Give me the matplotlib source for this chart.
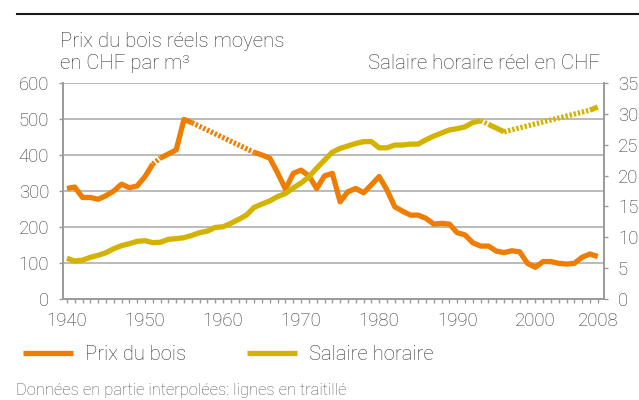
import matplotlib.pyplot as plt
import numpy as np

plt.rcParams['font.family'] = ['Roboto', 'DejaVu Sans']

# ---- data -------------------------------------------------------------
years = list(range(1940, 2009))

# Prix du bois réels moyens, CHF par m3 (None = year missing, bridged dashed)
prix_bois = [307, 311, 282, 282, 277, 287, 300, 319, 309, 314,
             340, 375, 392, 403, 414, 499, 490, None, None, None,
             None, None, None, None, 407, 400, 391, 350, 305, 349,
             358, 342, 307, 342, 349, 270, 298, 307, 295, 317,
             340, 303, 256, 244, 233, 233, 224, 208, 210, 208,
             184, 178, 156, 147, 147, 133, 129, 134, 131, 99,
             88, 104, 104, 99, 97, 99, 116, 125, 118]

# Salaire horaire réel, CHF
salaire = [6.6, 6.16, 6.3, 6.75, 7.08, 7.5, 8.15, 8.64, 8.96, 9.35,
           9.45, 9.13, 9.2, 9.67, 9.78, 9.94, 10.3, 10.75, 11.0, 11.6,
           11.7, 12.26, 12.9, 13.6, 14.86, 15.4, 15.9, 16.6, 17.1, 18.0,
           18.8, 19.8, 21.2, 22.5, 23.8, 24.4, 24.8, 25.2, 25.5, 25.5,
           24.5, 24.5, 24.95, 24.95, 25.1, 25.1, 25.8, 26.4, 26.9, 27.4,
           27.6, 27.9, 28.6, 28.9, 28.3, 27.7, 27.1, None, None, None,
           None, None, None, None, None, None, None, 30.6, 31.1]

# intervals drawn as interpolated (dashed)
prix_dashed = [(1951, 1952), (1956, 1964)]
salaire_dashed = [(1993, 1994), (1996, 2007)]

x_ticks = [1940, 1950, 1960, 1970, 1980, 1990, 2000, 2008]
left_ticks = [0, 100, 200, 300, 400, 500, 600]
right_ticks = [0, 5, 10, 15, 20, 25, 30, 35]

ORANGE = '#ef7d00'
YELLOW = '#d4b300'
GRID = '#a8a8a8'
TXT = '#333333'


def draw_series(ax, xs, ys, dashed, color):
    pts = [(x, y) for x, y in zip(xs, ys) if y is not None]
    runs = []
    for (x0, y0), (x1, y1) in zip(pts[:-1], pts[1:]):
        is_dash = (x0, x1) in dashed
        if runs and runs[-1][0] == is_dash:
            runs[-1][1].append((x1, y1))
        else:
            runs.append([is_dash, [(x0, y0), (x1, y1)]])
    handle = None
    for is_dash, seg in runs:
        sx, sy = zip(*seg)
        ls = (0, (0.45, 0.35)) if is_dash else '-'
        ln, = ax.plot(sx, sy, color=color, lw=3.8, linestyle=ls,
                      solid_joinstyle='round', solid_capstyle='butt',
                      dash_capstyle='butt')
        if handle is None and not is_dash:
            handle = ln
    return handle


fig = plt.figure(figsize=(6.39, 4.0), dpi=100)
ax = fig.add_axes([63 / 639, 1 - 299 / 400, 541 / 639, 216 / 400])
ax2 = ax.twinx()

h1 = draw_series(ax, years, prix_bois, prix_dashed, ORANGE)
h2 = draw_series(ax2, years, salaire, salaire_dashed, YELLOW)

ax.set_xlim(1939.5, 2008.8)
ax.set_ylim(0, 600)
ax2.set_ylim(0, 35)

ax.set_yticks(left_ticks)
ax2.set_yticks(right_ticks)
ax.set_xticks(x_ticks)
ax.set_xticks(years, minor=True)
ax.grid(axis='y', color=GRID, lw=1.1)
ax.set_axisbelow(True)

for a in (ax, ax2):
    a.spines['top'].set_visible(False)
    for s in ('left', 'right', 'bottom'):
        a.spines[s].set_color('#9a9a9a')
        a.spines[s].set_linewidth(1.2)

ax.tick_params(axis='both', which='both', color='#9a9a9a', width=1.0,
               length=3, labelcolor=TXT, labelsize=13.4)
ax.tick_params(axis='y', pad=7)
ax.tick_params(axis='x', pad=6)
ax2.tick_params(axis='y', color='#9a9a9a', width=1.0, length=3,
                labelcolor=TXT, labelsize=13.4, pad=7)
for lab in ax.get_xticklabels() + ax.get_yticklabels() + ax2.get_yticklabels():
    lab.set_fontweight('light')

# axis titles
fig.text(60 / 639, 1 - 47 / 400, 'Prix du bois réels moyens',
         ha='left', va='baseline', fontsize=14.7, color=TXT, fontweight='light')
fig.text(60 / 639, 1 - 69 / 400, 'en CHF par m³',
         ha='left', va='baseline', fontsize=14.7, color=TXT, fontweight='light')
fig.text(600 / 639, 1 - 69 / 400, 'Salaire horaire réel en CHF',
         ha='right', va='baseline', fontsize=14.7, color=TXT, fontweight='light')

# top rule
fig.add_artist(plt.Line2D([17 / 639, 1.0], [1 - 14 / 400, 1 - 14 / 400],
                          color='#1a1a1a', lw=1.5))

# legend
leg = fig.legend([h1, h2], ['Prix du bois', 'Salaire horaire'],
                 loc='center left', bbox_to_anchor=(5 / 639, 1 - 355 / 400),
                 ncol=2, frameon=False, fontsize=14.6, handlelength=2.45,
                 handletextpad=0.6, columnspacing=3.0)
for t in leg.get_texts():
    t.set_color(TXT)
    t.set_fontweight('light')

fig.text(16 / 639, 1 - 390 / 400, 'Données en partie interpolées: lignes en traitillé',
         ha='left', va='center', fontsize=11.9, color='#555555', fontweight='light')

fig.savefig('out.png', dpi=100)
